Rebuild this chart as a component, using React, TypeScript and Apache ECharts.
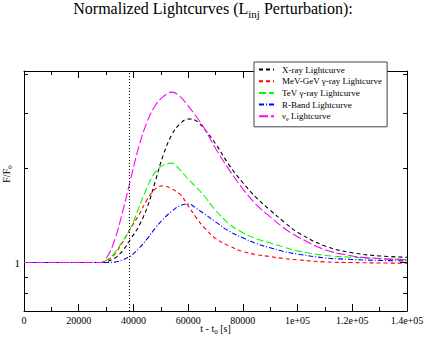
import React, { useEffect, useRef } from "react";
import * as echarts from "echarts";

const T = [0, 28000, 30000, 33000, 36000, 39000, 42000, 45000, 48000, 51000, 54000, 57000, 60000, 63000, 66000, 70000, 75000, 80000, 85000, 90000, 95000, 100000, 110000, 120000, 130000, 140000];
const xray = [1, 1, 1.005, 1.03, 1.09, 1.19, 1.31, 1.5, 1.82, 2.22, 2.56, 2.78, 2.88, 2.84, 2.67, 2.4, 2.05, 1.8, 1.61, 1.47, 1.35, 1.25, 1.13, 1.075, 1.05, 1.04];
const mevgev = [1, 1, 1.012, 1.06, 1.16, 1.29, 1.42, 1.59, 1.72, 1.76, 1.72, 1.655, 1.52, 1.39, 1.29, 1.195, 1.13, 1.085, 1.06, 1.045, 1.03, 1.02, 1.005, 1.0, 0.997, 0.995];
const tev = [1, 1, 1.015, 1.07, 1.17, 1.29, 1.5, 1.74, 1.95, 2.05, 2.08, 1.98, 1.85, 1.74, 1.63, 1.47, 1.33, 1.245, 1.19, 1.155, 1.12, 1.09, 1.055, 1.04, 1.03, 1.022];
const rband = [1, 1, 1.0, 1.003, 1.02, 1.05, 1.11, 1.19, 1.29, 1.38, 1.46, 1.52, 1.54, 1.49, 1.43, 1.35, 1.26, 1.2, 1.15, 1.115, 1.085, 1.065, 1.035, 1.023, 1.016, 1.012];
const nue = [1, 1, 1.03, 1.17, 1.45, 1.85, 2.35, 2.82, 3.18, 3.4, 3.51, 3.4, 3.17, 2.93, 2.68, 2.32, 1.98, 1.72, 1.53, 1.4, 1.29, 1.21, 1.1, 1.05, 1.03, 1.02];

const seriesNames = ["X-ray Lightcurve", "MeV-GeV γ-ray Lightcurve", "TeV γ-ray Lightcurve", "R-Band Lightcurve", "ν_e Lightcurve"];
const injectionTime = 38500;
const xTickLabels: Record<number, string> = { 0: "0", 20000: "20000", 40000: "40000", 60000: "60000", 80000: "80000", 100000: "1e+05", 120000: "1.2e+05", 140000: "1.4e+05" };
const yMajor = [1];
const yMinor = [0.8, 0.9, 2, 3, 4];

const FONT = "Liberation Serif";
const X_MIN = 0, X_MAX = 140000, Y_MIN = 0.7, Y_MAX = 4.1;

export default function App() {
  const ref = useRef<HTMLDivElement>(null);
  useEffect(() => {
    if (!ref.current) return;
    const chart = echarts.init(ref.current, null, { renderer: "svg" });
    const pairs = (ys: number[]) => T.map((t, i) => [t, ys[i]]);
    const styles = [
      { color: "#000000", type: [4, 3] },
      { color: "#ff0000", type: [4, 3] },
      { color: "#00ff00", type: [7, 3] },
      { color: "#0000ff", type: [5, 2, 1, 2] },
      { color: "#ff00ff", type: [9, 3] },
    ];
    const datas = [xray, mevgev, tev, rband, nue];
    const series: any[] = datas.map((d, i) => ({
      type: "line",
      name: seriesNames[i],
      data: pairs(d),
      xAxisIndex: 0,
      yAxisIndex: 0,
      symbol: "none",
      smooth: 0.4,
      color: styles[i].color,
      lineStyle: { color: styles[i].color, width: 1.1, type: styles[i].type },
      z: 3,
      markLine: i === 0 ? {
        silent: true,
        symbol: "none",
        label: { show: false },
        lineStyle: { color: "#000", type: [1, 2], width: 1 },
        data: [{ xAxis: injectionTime }],
      } : undefined,
    }));
    const xBase = { type: "value", min: X_MIN, max: X_MAX, interval: 20000, splitLine: { show: false } };
    const yBase = { type: "log", logBase: 10, min: Y_MIN, max: Y_MAX, splitLine: { show: false } };
    chart.setOption({
      animation: false,
      backgroundColor: "#ffffff",
      title: {
        text: "{a|Normalized Lightcurves (L}{s|inj}{a| Perturbation):}",
        left: "center",
        top: -3,
        padding: 0,
        textStyle: {
          fontWeight: "normal",
          rich: {
            a: { fontFamily: FONT, fontSize: 16, fontWeight: "normal", color: "#000", lineHeight: 22, verticalAlign: "middle" },
            s: { fontFamily: FONT, fontSize: 11, fontWeight: "normal", color: "#000", lineHeight: 11, verticalAlign: "bottom" },
          },
        },
      },
      legend: {
        orient: "vertical",
        left: 254,
        top: 62,
        data: seriesNames,
        itemWidth: 15,
        itemHeight: 11,
        itemGap: 0.7,
        padding: [2, 5, 5, 4],
        borderColor: "#444",
        borderWidth: 1,
        backgroundColor: "#fff",
        itemStyle: { opacity: 0 },
        formatter: (n: string) => n === "ν_e Lightcurve" ? "{t|ν}{e|e}{t| Lightcurve}" : n,
        textStyle: {
          fontFamily: FONT, fontSize: 9, lineHeight: 11, color: "#000", padding: [0, 0, 0, 3],
          rich: {
            t: { fontFamily: FONT, fontSize: 9, color: "#000", lineHeight: 11, verticalAlign: "middle" },
            e: { fontFamily: FONT, fontSize: 6, color: "#000", lineHeight: 6, verticalAlign: "bottom" },
          },
        },
      },
      grid: { left: 24, right: 19, top: 71, bottom: 28, containLabel: false, outerBoundsMode: "none" },
      xAxis: [
        {
          ...xBase,
          position: "bottom",
          name: "{a|t - t}{s|0}{a| [s]}",
          nameLocation: "middle",
          nameGap: 11,
          nameMoveOverlap: false,
          nameTextStyle: {
            rich: {
              a: { fontFamily: FONT, fontSize: 10, color: "#000", lineHeight: 13, verticalAlign: "middle" },
              s: { fontFamily: FONT, fontSize: 7, color: "#000", lineHeight: 7, verticalAlign: "bottom" },
            },
          },
          axisLine: { lineStyle: { color: "#000", width: 1 } },
          axisTick: { inside: true, length: 7, lineStyle: { color: "#000" } },
          minorTick: { show: true, splitNumber: 2, length: 4, lineStyle: { color: "#000" } },
          axisLabel: {
            fontFamily: FONT, fontSize: 10, color: "#000", margin: 4,
            formatter: (v: number) => xTickLabels[v] ?? "",
          },
        },
        {
          ...xBase,
          position: "top",
          axisLine: { lineStyle: { color: "#000", width: 1 } },
          axisTick: { inside: true, length: 7, lineStyle: { color: "#000" } },
          minorTick: { show: true, splitNumber: 2, length: 4, lineStyle: { color: "#000" } },
          axisLabel: { show: false },
        },
      ],
      yAxis: [
        {
          ...yBase,
          position: "left",
          name: "{a|F/F}{s|0}",
          nameLocation: "middle",
          nameRotate: 90,
          nameGap: 11,
          nameMoveOverlap: false,
          nameTextStyle: {
            padding: [0, 0, 0, 34],
            rich: {
              a: { fontFamily: FONT, fontSize: 10, color: "#000", lineHeight: 13, verticalAlign: "middle" },
              s: { fontFamily: FONT, fontSize: 7, color: "#000", lineHeight: 7, verticalAlign: "bottom" },
            },
          },
          axisLine: { lineStyle: { color: "#000", width: 1 } },
          axisTick: { inside: true, length: 7, customValues: yMajor, lineStyle: { color: "#000" } },
          axisLabel: { fontFamily: FONT, fontSize: 11, color: "#000", margin: 4, customValues: yMajor, formatter: (v: number) => String(v) },
        },
        {
          ...yBase,
          position: "left",
          axisLine: { show: false },
          axisTick: { inside: true, length: 4, customValues: yMinor, lineStyle: { color: "#000" } },
          axisLabel: { show: false },
        },
        {
          ...yBase,
          position: "right",
          axisLine: { lineStyle: { color: "#000", width: 1 } },
          axisTick: { inside: true, length: 7, customValues: yMajor, lineStyle: { color: "#000" } },
          axisLabel: { show: false },
        },
        {
          ...yBase,
          position: "right",
          axisLine: { show: false },
          axisTick: { inside: true, length: 4, customValues: yMinor, lineStyle: { color: "#000" } },
          axisLabel: { show: false },
        },
      ],
      series,
    });
    return () => chart.dispose();
  }, []);
  return <div ref={ref} style={{ position: "fixed", left: 0, top: 0, width: 426, height: 339 }} />;
}
